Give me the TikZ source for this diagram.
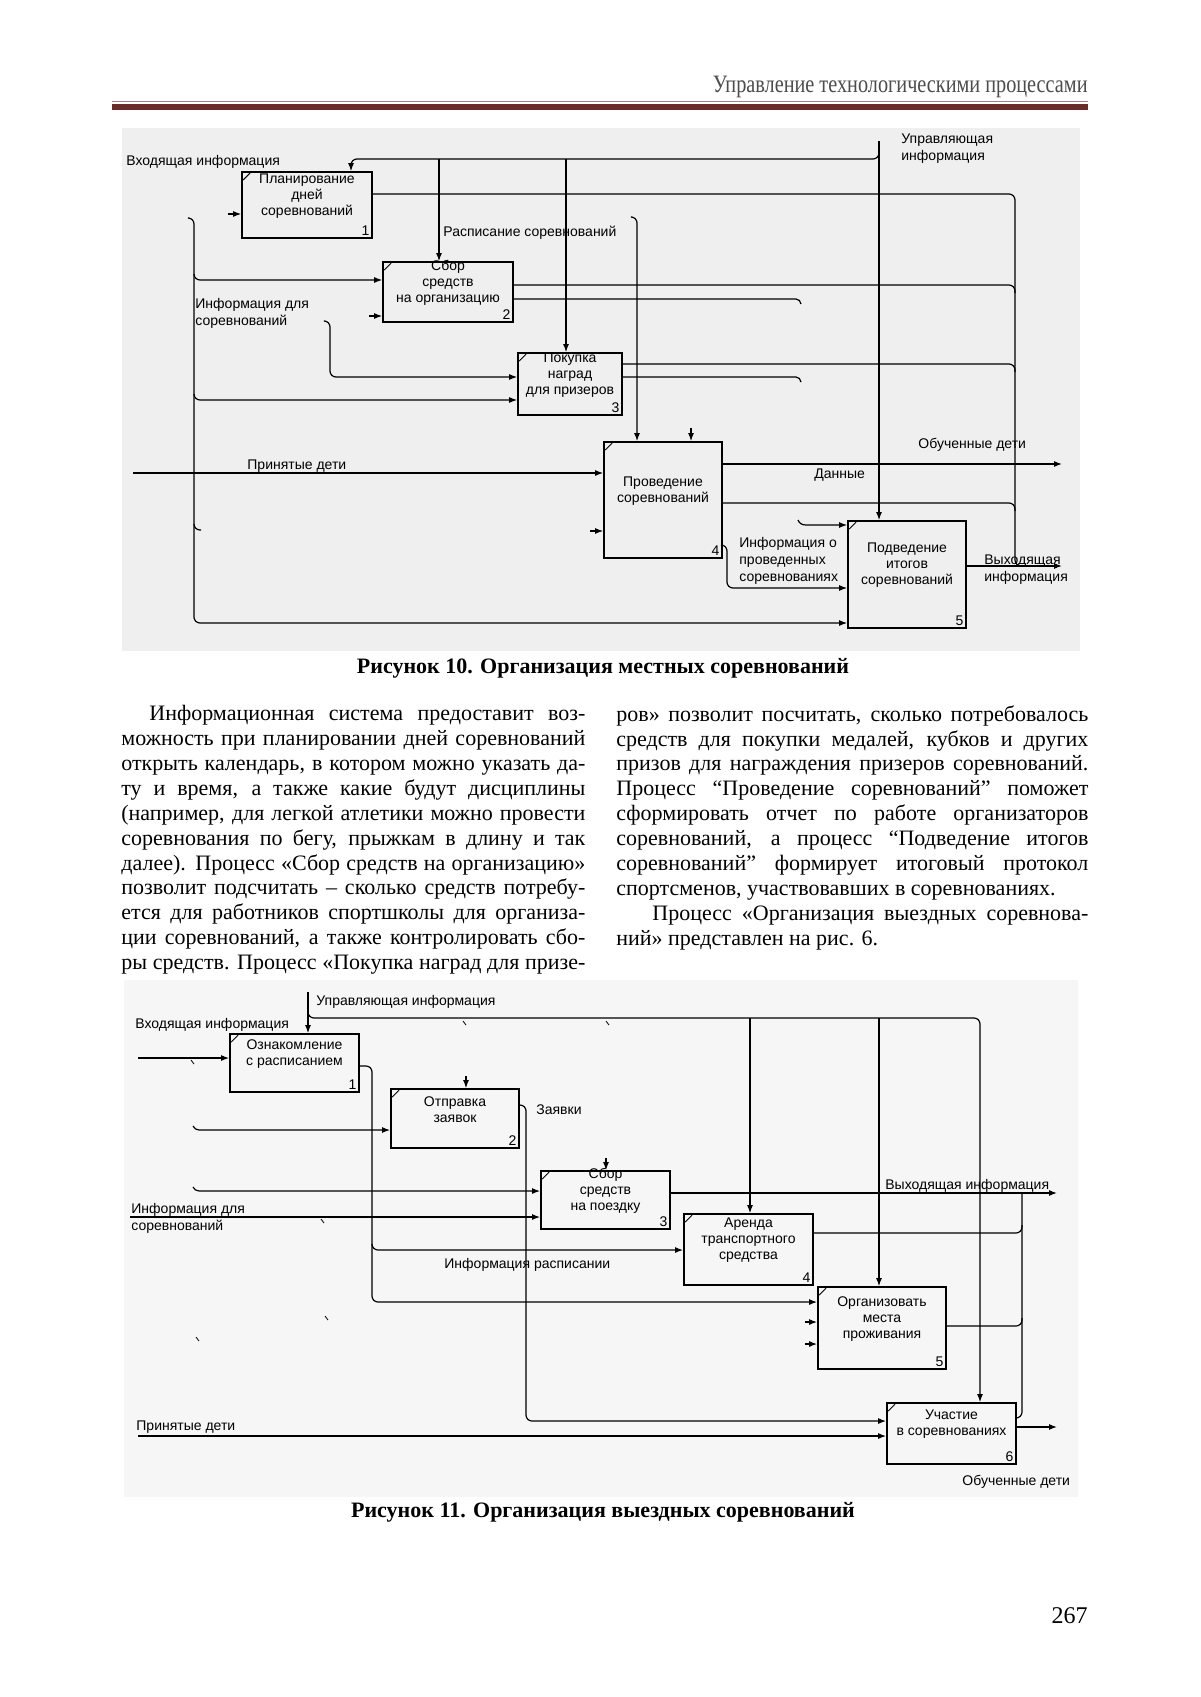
\documentclass[tikz,border=0pt]{standalone}
\usepackage{fontspec}
\setmainfont{Liberation Serif}
\newfontfamily\diagfont{Liberation Sans}
\newfontfamily\headfont[FakeStretch=0.81]{Liberation Serif}
\usetikzlibrary{arrows.meta,fit,calc}

\definecolor{rulered}{HTML}{6B2B2B}
\definecolor{figgray}{HTML}{EFEFEF}
\definecolor{figgrayb}{HTML}{F6F6F6}

\tikzstyle{pbox}=[draw,line width=0.9pt,inner sep=0pt]
\tikzstyle{ptext}=[font=\diagfont\fontsize{7}{8}\selectfont,align=center,inner sep=0pt]
\tikzstyle{pnum}=[font=\diagfont\fontsize{7}{8}\selectfont,inner sep=1.5pt]
\tikzstyle{lab}=[font=\diagfont\fontsize{7}{8.5}\selectfont,align=left,inner sep=0pt]
\tikzstyle{arr}=[draw,line width=0.6pt,-{Latex[length=4pt,width=3pt]}]
\tikzstyle{ln}=[draw,line width=0.6pt]
\tikzstyle{tick}=[draw,line width=0.4pt]
\tikzstyle{body}=[font=\fontsize{11}{12.45}\selectfont,align=left,inner sep=0pt]
\tikzstyle{capt}=[font=\bfseries\fontsize{11}{13}\selectfont,inner sep=0pt]

\newcommand{\jl}[1]{\makebox[236pt][s]{#1}}
\newcommand{\jend}[1]{\makebox[236pt][l]{#1}}
\newcommand{\jlL}[1]{\makebox[232pt][s]{#1}}

% box: name, x1, y1, x2, y2, text, number
\newcommand{\procbox}[7]{%
  \node[pbox,fit={(#2,#3) (#4,#5)}] (#1) {};
  \node[ptext] (#1t) at ([yshift=4.5pt]#1.center) {#6};
  \node[pnum,anchor=south east] (#1n) at (#1.south east) {#7};
  \draw[line width=0.5pt] ($(#1.north west)+(2,9)$) -- ($(#1.north west)+(9,2)$);
}

\begin{document}
\begin{tikzpicture}[x=0.5pt,y=-0.5pt]
\fill[white] (0,0) rectangle (1200,1697);
\useasboundingbox (0,0) rectangle (1200,1697);

% header
\node[font=\headfont\fontsize{12.5}{14}\selectfont,text=black!70,anchor=base east,inner sep=0pt] (head) at (1088,92) {Управление технологическими процессами};
\draw[rulered!60,line width=0.5pt] (112,101) -- (1088,101);
\fill[rulered] (112,104) rectangle (1088,110);

% ---------- figure 10
\fill[figgray] (122,128) rectangle (1080,651);

\procbox{a1}{242}{172}{372}{238}{Планирование\\дней\\соревнований}{1}
\procbox{a2}{383}{262}{513}{322}{Сбор\\средств\\на организацию}{2}
\procbox{a3}{518}{353}{622}{415}{Покупка\\наград\\для призеров}{3}
\procbox{a4}{604}{442}{722}{558}{Проведение\\соревнований}{4}
\procbox{a5}{848}{521}{966}{628}{Подведение\\итогов\\соревнований}{5}

\node[lab,anchor=west] (inA) at (126,162) {Входящая информация};
\node[lab,anchor=west] (ctlA) at (901,149) {Управляющая\\информация};
\node[lab,anchor=west] (rasp) at (443,233) {Расписание соревнований};
\node[lab,anchor=west] (infA) at (195,313) {Информация для\\соревнований};
\node[lab,anchor=base west] (kids) at (247,469) {Принятые дети};
\node[lab,anchor=west] (outk) at (918,445) {Обученные дети};
\node[lab,anchor=west] (data) at (814,475) {Данные};
\node[lab,anchor=west] (held) at (739,561) {Информация о\\проведенных\\соревнованиях};
\node[lab,anchor=west] (outA) at (984,570) {Выходящая\\информация};

% controls
\coordinate (c1) at (879,141);
\draw[arr] (c1) -- (c1 |- a5.north);
\draw[arr,rounded corners=3] (879,152) |- (351,159) -- (a1.north -| 351,0);
\foreach \xx/\bx in {439/a2, 566/a3}
  \draw[arr] (\xx,159) -- (\bx.north -| \xx,0);
\draw[arr,rounded corners=3] (632,217) -| (a4.north -| 637,0);
\draw[arr] ($(a4.north -| 691,0)+(0,-13)$) -- (a4.north -| 691,0);

% outputs
\draw[ln,rounded corners=3] (a1.east |- 0,194) -| (1015,566) -- (1024,566);
\foreach \yy/\bx in {285/a2, 364/a3, 503/a4}
  \draw[ln,rounded corners=3] (\bx.east |- 0,\yy) -| (1015,\yy+8);
\foreach \yy/\bx in {299/a2, 377/a3}
  \draw[ln] (\bx.east |- 0,\yy) -- (796,\yy) to[out=0,in=100] (801,\yy+5);
\draw[arr] (a4.east |- 0,464) -- (1062,464);
\draw[arr] (a5.east |- 0,566) -- (1062,566);
\draw[arr,rounded corners=3] (a4.east |- 0,545) -| (727,588) -- (a5.west |- 0,588);

% inputs
\draw[arr,rounded corners=3] (189,218) -| (194,623) -- (a5.west |- 0,623);
\foreach \yy/\bx in {280/a2, 400/a3}
  \draw[arr,rounded corners=3] (194,\yy-6) |- (\bx.west |- 0,\yy);
\draw[ln,rounded corners=3] (194,524) |- (201,530);
\draw[arr,rounded corners=3] (325,321) -| (330,377) -- (a3.west |- 0,377);
\draw[arr] (133,473) -- (a4.west |- 0,473);
\draw[arr] (798,520) to[out=-70,in=180] (806,525) -- (a5.west |- 0,525);
\foreach \yy/\bx in {214/a1, 316/a2, 531/a4}
  \draw[arr] ($(\bx.west |- 0,\yy)+(-13,0)$) -- (\bx.west |- 0,\yy);

\node[capt] (cap10) at (603,668) {Рисунок 10. Организация местных соревнований};

% ---------- text columns
\node[body,anchor=north west] (colL) at (121,705) {%
\jlL{\hspace*{14pt}Информационная система предоставит воз-}\\
\jlL{можность при планировании дней соревнований}\\
\jlL{открыть календарь, в котором можно указать да-}\\
\jlL{ту и время, а также какие будут дисциплины}\\
\jlL{(например, для легкой атлетики можно провести}\\
\jlL{соревнования по бегу, прыжкам в длину и так}\\
\jlL{далее). Процесс «Сбор средств на организацию»}\\
\jlL{позволит подсчитать – сколько средств потребу-}\\
\jlL{ется для работников спортшколы для организа-}\\
\jlL{ции соревнований, а также контролировать сбо-}\\
\jlL{ры средств. Процесс «Покупка наград для призе-}};
\node[body,anchor=north west] (colR) at (616,705) {%
\jl{ров» позволит посчитать, сколько потребовалось}\\
\jl{средств для покупки медалей, кубков и других}\\
\jl{призов для награждения призеров соревнований.}\\
\jl{Процесс “Проведение соревнований” поможет}\\
\jl{сформировать отчет по работе организаторов}\\
\jl{соревнований, а процесс “Подведение итогов}\\
\jl{соревнований” формирует итоговый протокол}\\
\jend{спортсменов, участвовавших в соревнованиях.}\\
\jl{\hspace*{18pt}Процесс «Организация выездных соревнова-}\\
\jend{ний» представлен на рис. 6.}};

% ---------- figure 11
\fill[figgrayb] (124,980) rectangle (1078,1497);

\procbox{b1}{230}{1034}{359}{1092}{Ознакомление\\с расписанием}{1}
\procbox{b2}{391}{1089}{519}{1148}{Отправка\\заявок}{2}
\procbox{b3}{541}{1171}{670}{1229}{Сбор\\средств\\на поездку}{3}
\procbox{b4}{684}{1214}{813}{1285}{Аренда\\транспортного\\средства}{4}
\procbox{b5}{818}{1287}{946}{1369}{Организовать\\места\\проживания}{5}
\procbox{b6}{887}{1403}{1016}{1464}{Участие\\в соревнованиях}{6}

\node[lab,anchor=west] (ctlB) at (316,1002) {Управляющая информация};
\node[lab,anchor=west] (inB) at (135,1025) {Входящая информация};
\node[lab,anchor=west] (req) at (536,1110) {Заявки};
\node[lab,anchor=west] (infB) at (131,1218) {Информация для\\соревнований};
\node[lab,anchor=base west] (outB) at (885,1189) {Выходящая информация};
\node[lab,anchor=west] (sched) at (444,1265) {Информация расписании};
\node[lab,anchor=base west] (kidsB) at (136,1430) {Принятые дети};
\node[lab,anchor=west] (outkB) at (962,1482) {Обученные дети};

% controls
\coordinate (c2) at (308,992);
\draw[arr] (c2) -- (c2 |- b1.north);
\draw[arr,rounded corners=3] (308,1012) |- (980,1018) -- (b6.north -| 980,0);
\foreach \xx/\bx in {750/b4, 879/b5}
  \draw[arr] (\xx,1018) -- (\bx.north -| \xx,0);
\foreach \xx in {463,606}
  \draw[tick] (\xx,1021) -- (\xx+3,1025);
\foreach \xx/\bx in {466/b2, 606/b3}
  \draw[arr] ($(\bx.north -| \xx,0)+(0,-12)$) -- (\bx.north -| \xx,0);

% inputs
\draw[arr] (138,1058) -- (b1.west |- 0,1058);
\foreach \yy/\bx in {1130/b2, 1191/b3}
  \draw[arr] (193,\yy-4) to[out=-60,in=180] (199,\yy) -- (\bx.west |- 0,\yy);
\draw[arr] (130,1217) -- (b3.west |- 0,1217);
\foreach \xa/\ya in {191/1060, 321/1219, 325/1316, 196/1337}
  \draw[tick] (\xa,\ya) -- (\xa+3,\ya+4);
\draw[arr,rounded corners=3] (b1.east |- 0,1066) -| (372,1302) -- (b5.west |- 0,1302);
\draw[arr,rounded corners=3] (372,1244) |- (b4.west |- 0,1250);
\draw[arr,rounded corners=3] (b2.east |- 0,1105) -| (526,1421) -- (b6.west |- 0,1421);
\draw[arr] (138,1436) -- (b6.west |- 0,1436);
\foreach \yy in {1322,1344}
  \draw[arr] ($(b5.west |- 0,\yy)+(-12,0)$) -- (b5.west |- 0,\yy);

% outputs
\draw[arr] (b3.east |- 0,1193) -- (1057,1193);
\draw[ln,rounded corners=3] (1022,1193) |- (b6.east |- 0,1418);
\foreach \yy/\bx in {1233/b4, 1326/b5}
  \draw[ln,rounded corners=3] (\bx.east |- 0,\yy) -| (1022,\yy-8);
\draw[arr] (b6.east |- 0,1427) -- (1057,1427);

\node[capt] (cap11) at (603,1512) {Рисунок 11. Организация выездных соревнований};
\node[font=\fontsize{12}{14}\selectfont,anchor=base east,inner sep=0pt] (pnum) at (1088,1623) {267};

\end{tikzpicture}
\end{document}
